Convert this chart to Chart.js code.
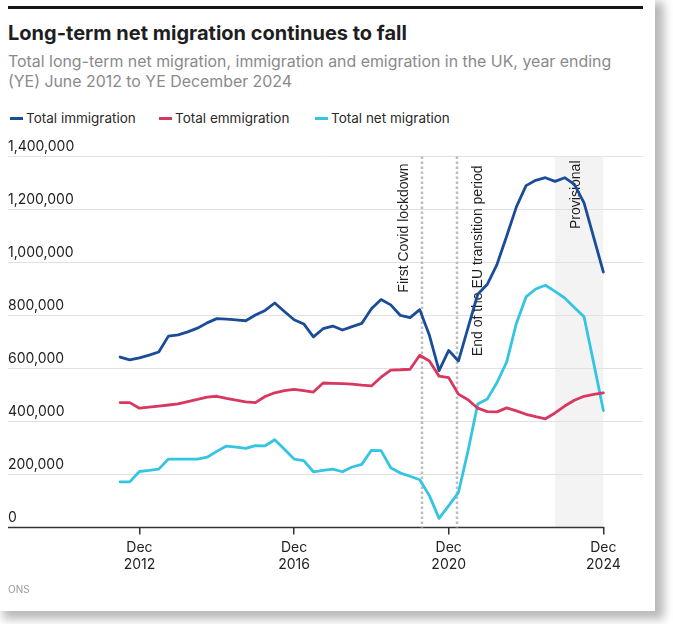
<!DOCTYPE html>
<html>
<head>
<meta charset="utf-8">
<script src="https://cdn.jsdelivr.net/npm/chart.js@4.4.1/dist/chart.umd.min.js"></script>
<style>
  html, body { margin: 0; padding: 0; background: #fff; }
  body { width: 673px; height: 624px; overflow: hidden; position: relative; font-family: Inter, "Noto Sans", sans-serif; }
  #card { position: absolute; left: 0; top: 0; width: 655px; height: 611px; background: #fff; box-shadow: 6px 5px 9px 3px rgba(0,0,0,0.28); }
  #bar { position: absolute; left: 8px; top: 6px; width: 635px; height: 3px; background: #151515; }
  #title { position: absolute; left: 8px; top: 22px; font-size: 20px; font-weight: 700; line-height: 23px; color: #1e1e1e; white-space: nowrap; }
  #subtitle { position: absolute; left: 8px; top: 52px; width: 612px; font-size: 15.9px; line-height: 19.5px; color: #8a8a8a; }
  #legend { position: absolute; left: 0; top: 110px; width: 640px; height: 18px; font-size: 13.5px; line-height: 17px; color: #2a2a2a; }
  .item { position: absolute; top: 0; white-space: nowrap; }
  .swatch { display: inline-block; width: 13px; height: 3px; vertical-align: middle; margin-right: 3px; position: relative; top: -1px; }
  #wrap { position: absolute; left: 0; top: 130px; width: 655px; height: 480px; }
  #source { position: absolute; left: 8px; top: 583px; font-size: 10px; line-height: 12px; color: #9a9a9a; }
</style>
</head>
<body>
<div id="card">
  <div id="bar"></div>
  <div id="title">Long-term net migration continues to fall</div>
  <div id="subtitle">Total long-term net migration, immigration and emigration in the UK, year ending (YE) June 2012 to YE December 2024</div>
  <div id="legend"></div>
  <div id="wrap"><canvas id="chart"></canvas></div>
  <div id="source">ONS</div>
</div>
<script>
"use strict";

// quarterly periods, year ending
const PERIODS = [
  "YE Jun 2012", "YE Sep 2012", "YE Dec 2012",
  "YE Mar 2013", "YE Jun 2013", "YE Sep 2013", "YE Dec 2013",
  "YE Mar 2014", "YE Jun 2014", "YE Sep 2014", "YE Dec 2014",
  "YE Mar 2015", "YE Jun 2015", "YE Sep 2015", "YE Dec 2015",
  "YE Mar 2016", "YE Jun 2016", "YE Sep 2016", "YE Dec 2016",
  "YE Mar 2017", "YE Jun 2017", "YE Sep 2017", "YE Dec 2017",
  "YE Mar 2018", "YE Jun 2018", "YE Sep 2018", "YE Dec 2018",
  "YE Mar 2019", "YE Jun 2019", "YE Sep 2019", "YE Dec 2019",
  "YE Mar 2020", "YE Jun 2020", "YE Sep 2020", "YE Dec 2020",
  "YE Mar 2021", "YE Jun 2021", "YE Sep 2021", "YE Dec 2021",
  "YE Mar 2022", "YE Jun 2022", "YE Sep 2022", "YE Dec 2022",
  "YE Mar 2023", "YE Jun 2023", "YE Sep 2023", "YE Dec 2023",
  "YE Mar 2024", "YE Jun 2024", "YE Sep 2024", "YE Dec 2024",
];

const IMMIGRATION = [
  643000, 632000, 640000, 650000, 662000, 722000, 727000, 738000, 752000, 772000,
  788000, 786000, 783000, 780000, 802000, 819000, 847000, 815000, 784000, 768000,
  719000, 750000, 760000, 745000, 758000, 770000, 825000, 860000, 840000, 800000,
  792000, 822000, 725000, 592000, 668000, 628000, 754000, 880000, 918000, 993000,
  1100000, 1210000, 1290000, 1310000, 1320000, 1306000, 1320000, 1295000, 1225000, 1095000, 964000,
];

const EMIGRATION = [
  471000, 471000, 450000, 454000, 458000, 462000, 466000, 475000, 483000, 492000,
  495000, 487000, 480000, 474000, 471000, 494000, 508000, 516000, 521000, 516000,
  511000, 545000, 544000, 543000, 541000, 537000, 534000, 567000, 594000, 595000,
  597000, 650000, 628000, 571000, 565000, 503000, 482000, 450000, 437000, 436000,
  451000, 440000, 427000, 418000, 410000, 432000, 458000, 480000, 495000, 502000, 508000,
];

const NET_MIGRATION = [
  172000, 172000, 211000, 215000, 220000, 258000, 258000, 258000, 258000, 265000,
  287000, 307000, 303000, 298000, 309000, 308000, 331000, 295000, 258000, 252000,
  210000, 215000, 220000, 210000, 228000, 238000, 291000, 290000, 225000, 205000,
  193000, 180000, 120000, 34000, 82000, 131000, 290000, 466000, 485000, 547000,
  625000, 770000, 870000, 900000, 914000, 891000, 866000, 830000, 795000, 620000, 441000,
];

const SERIES_NAMES = ["Total immigration", "Total emmigration", "Total net migration"];
const SERIES_COLORS = ["#1a4c98", "#d8375f", "#33c5e2"];

const TICK_PERIODS = ["YE Dec 2012", "YE Dec 2016", "YE Dec 2020", "YE Dec 2024"];
const Y_TICKS = [0, 200000, 400000, 600000, 800000, 1000000, 1200000, 1400000];

// events marked with dotted lines (position in quarters from YE Jun 2012)
const EVENT_LABELS = ["First Covid lockdown", "End of the EU transition period"];
const EVENT_POSITIONS = [31.25, 34.9];
const PROVISIONAL_FROM = "YE Sep 2023";
const PROVISIONAL_TO = "YE Dec 2024";

const idx = (p) => PERIODS.indexOf(p);
const toPoints = (arr) => arr.map((v, i) => ({ x: i, y: v }));

// legend
const legend = document.getElementById("legend");
const legendLefts = [10, 159, 315];
SERIES_NAMES.forEach((name, i) => {
  const el = document.createElement("div");
  el.className = "item";
  el.style.left = legendLefts[i] + "px";
  el.innerHTML = `<span class="swatch" style="background:${SERIES_COLORS[i]}"></span>${name}`;
  legend.appendChild(el);
});

const annotations = {
  id: "annotations",
  beforeDraw(chart) {
    const { ctx, chartArea, scales: { x } } = chart;
    const x0 = x.getPixelForValue(idx(PROVISIONAL_FROM));
    const x1 = x.getPixelForValue(idx(PROVISIONAL_TO));
    ctx.save();
    ctx.fillStyle = "#f3f3f3";
    ctx.fillRect(x0, chartArea.top, x1 - x0, chartArea.bottom - chartArea.top);
    ctx.restore();
  },
  beforeDatasetsDraw(chart) {
    const { ctx, chartArea, scales: { x, y } } = chart;
    ctx.save();
    // x axis line, only up to the last period
    const y0 = y.getPixelForValue(0);
    ctx.strokeStyle = "#333";
    ctx.lineWidth = 1.5;
    ctx.beginPath();
    ctx.moveTo(chartArea.left, y0);
    ctx.lineTo(x.getPixelForValue(PERIODS.length - 1) + 0.75, y0);
    ctx.stroke();

    // dotted event lines
    ctx.strokeStyle = "#bcbcbc";
    ctx.lineWidth = 2.5;
    ctx.setLineDash([2.5, 2.5]);
    EVENT_POSITIONS.forEach((pos) => {
      const px = Math.round(x.getPixelForValue(pos));
      ctx.beginPath();
      ctx.moveTo(px, chartArea.top);
      ctx.lineTo(px, y0);
      ctx.stroke();
    });
    ctx.setLineDash([]);

    // rotated labels
    ctx.fillStyle = "#1e1e1e";
    ctx.font = '14px "Liberation Sans", Arial, sans-serif';
    ctx.textAlign = "right";
    ctx.textBaseline = "middle";
    const labelAt = (text, px, top) => {
      ctx.save();
      ctx.translate(px, top);
      ctx.rotate(-Math.PI / 2);
      ctx.fillText(text, 0, 0);
      ctx.restore();
    };
    labelAt(EVENT_LABELS[0], x.getPixelForValue(EVENT_POSITIONS[0]) - 18, chartArea.top + 7);
    labelAt(EVENT_LABELS[1], x.getPixelForValue(EVENT_POSITIONS[1]) + 21, chartArea.top + 9);
    labelAt("Provisional", x.getPixelForValue(idx(PROVISIONAL_FROM)) + 21, chartArea.top + 4);
    ctx.restore();
  },
};

const tickIndex = TICK_PERIODS.map(idx);

new Chart(document.getElementById("chart"), {
  type: "line",
  data: {
    datasets: [IMMIGRATION, EMIGRATION, NET_MIGRATION].map((arr, i) => ({
      label: SERIES_NAMES[i],
      data: toPoints(arr),
      borderColor: SERIES_COLORS[i],
      backgroundColor: SERIES_COLORS[i],
      borderWidth: 2.8,
      pointRadius: 0,
      tension: 0,
      borderJoinStyle: "round",
      borderCapStyle: "round",
    })),
  },
  options: {
    responsive: true,
    maintainAspectRatio: false,
    animation: false,
    events: [],
    layout: { padding: { left: 8, right: 12, top: 26.5, bottom: 32 } },
    plugins: { legend: { display: false }, tooltip: { enabled: false } },
    scales: {
      x: {
        type: "linear",
        min: -11.6,
        max: 54.1,
        border: { display: false },
        grid: { drawOnChartArea: false, drawTicks: true, tickLength: 7, color: "#333", lineWidth: 1.5 },
        afterBuildTicks: (scale) => { scale.ticks = tickIndex.map((v) => ({ value: v })); },
        ticks: {
          autoSkip: false,
          maxRotation: 0,
          padding: 5,
          color: "#222",
          font: { family: "Inter", size: 14 },
          callback: (v) => PERIODS[v].replace("YE ", "").split(" "),
        },
      },
      y: {
        min: 0,
        max: 1400000,
        border: { display: false },
        grid: {
          drawTicks: false,
          color: (c) => (c.tick && c.tick.value === 0 ? "rgba(0,0,0,0)" : "#e1e1e1"),
          lineWidth: 1,
        },
        afterBuildTicks: (scale) => { scale.ticks = Y_TICKS.map((v) => ({ value: v })); },
        ticks: {
          mirror: true,
          padding: 0,
          labelOffset: -10,
          color: "#222",
          font: { family: "Inter", size: 14 },
          callback: (v) => v.toLocaleString("en-US"),
        },
      },
    },
  },
  plugins: [annotations],
});
</script>
</body>
</html>
